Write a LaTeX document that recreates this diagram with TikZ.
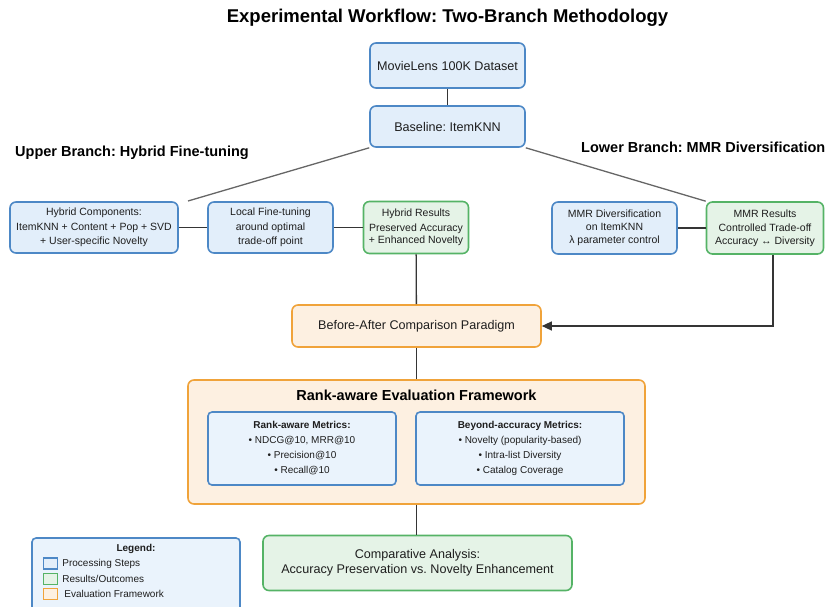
\documentclass[tikz,border=0pt]{standalone}
\usepackage{fontspec}
\setmainfont{Liberation Sans}
\usetikzlibrary{arrows.meta,positioning}
\frenchspacing

\definecolor{stepfill}{HTML}{E2EEFA}
\definecolor{stepline}{HTML}{4D88C6}
\definecolor{resfill}{HTML}{E5F3E7}
\definecolor{resline}{HTML}{55B366}
\definecolor{evalfill}{HTML}{FDF0E1}
\definecolor{evalline}{HTML}{F0A33A}
\definecolor{metfill}{HTML}{EAF3FC}
\definecolor{inkgray}{HTML}{1E1E1E}

\newcommand{\titlefont}{\fontsize{18.5}{22}\bfseries\selectfont}
\newcommand{\headfont}{\fontsize{14.5}{17}\bfseries\selectfont}
\newcommand{\bigtxt}{\fontsize{12.6}{15}\selectfont}
\newcommand{\smalltxt}{\fontsize{10.5}{14.5}\selectfont}
\newcommand{\mettxt}{\fontsize{10}{15}\selectfont}

\tikzset{
  box/.style={line width=1.6pt, rounded corners=6pt, align=center,
    inner sep=0pt, text=inkgray},
  procbox/.style={box, draw=stepline, fill=stepfill},
  resbox/.style={box, draw=resline, fill=resfill},
  evalbox/.style={box, draw=evalline, fill=evalfill},
  metbox/.style={box, draw=stepline, fill=metfill, rounded corners=4pt, font=\mettxt},
  link/.style={draw=inkgray!90, line width=1.3pt},
  branchlink/.style={draw=black!60, line width=1.3pt},
  legsq/.style={line width=1.4pt, minimum width=14pt, minimum height=11pt, inner sep=0pt},
}

\begin{document}
\begin{tikzpicture}[x=1pt,y=-1pt]
  \useasboundingbox (0,0) rectangle (826,606);

  % Title and branch labels
  \node[text=black, font=\titlefont] (title) at (447.5,18) {Experimental Workflow: Two-Branch Methodology};
  \node[text=black, font=\headfont] (upperlbl) at (132,153) {Upper Branch: Hybrid Fine-tuning};
  \node[text=black, font=\headfont, anchor=east, inner sep=0pt] (lowerlbl) at (825.5,147) {Lower Branch: MMR Diversification};

  % Top of the workflow
  \node[procbox, font=\bigtxt, minimum width=155pt, minimum height=45pt] (data) at (447.5,65.5) {MovieLens 100K Dataset};
  \node[procbox, font=\bigtxt, minimum width=155pt, minimum height=41pt] (base) at (447.5,126.5) {Baseline: ItemKNN};

  % Upper branch
  \node[procbox, font=\smalltxt, minimum width=168pt, minimum height=51pt] (hybcomp) at (94,227.5)
    {Hybrid Components:\\ItemKNN + Content + Pop + SVD\\+ User-specific Novelty};
  \node[procbox, font=\smalltxt, minimum width=125pt, minimum height=51pt] (localft) at (270.5,227.5)
    {Local Fine-tuning\\around optimal\\trade-off point};
  \node[resbox, font=\smalltxt, minimum width=105pt, minimum height=52pt] (hybres) at (416,227.5)
    {Hybrid Results\\Preserved Accuracy\\[-2.5pt]+ Enhanced Novelty};

  % Lower branch
  \node[procbox, font=\smalltxt, minimum width=125pt, minimum height=52pt] (mmrdiv) at (614.5,228)
    {MMR Diversification\\[-1.5pt]on ItemKNN\\[-1.5pt]λ parameter control};
  \node[resbox, font=\smalltxt, minimum width=117pt, minimum height=52pt] (mmrres) at (765,228)
    {MMR Results\\Controlled Trade-off\\[-2pt]Accuracy ↔ Diversity};

  % Comparison and evaluation
  \node[evalbox, font=\bigtxt, minimum width=249pt, minimum height=42pt] (beforeafter) at (416.5,326)
    {Before-After Comparison Paradigm};
  \node[evalbox, minimum width=457pt, minimum height=124pt] (evalframe) at (416.5,442) {};
  \node[text=black, font=\headfont] (evaltitle) at (416.5,395) {Rank-aware Evaluation Framework};
  \node[metbox, minimum width=188pt, minimum height=73pt] (rankmet) at (302,448.5)
    {\textbf{Rank-aware Metrics:}\\• NDCG@10, MRR@10\\• Precision@10\\• Recall@10};
  \node[metbox, minimum width=208pt, minimum height=73pt] (beyondmet) at (520,448.5)
    {\textbf{Beyond-accuracy Metrics:}\\• Novelty (popularity-based)\\• Intra-list Diversity\\• Catalog Coverage};
  \node[resbox, font=\bigtxt, minimum width=309pt, minimum height=55pt] (compare) at (417.5,563)
    {Comparative Analysis:\\Accuracy Preservation vs. Novelty Enhancement};

  % Legend
  \node[box, draw=stepline, fill=metfill, rounded corners=4pt, minimum width=208pt, minimum height=90pt] (legend) at (136,583) {};
  \node[font=\mettxt\bfseries, text=inkgray] (legtitle) at (136,549) {Legend:};
  \node[legsq, draw=stepline, fill=stepfill] (lgstep) at (50.5,563.5) {};
  \node[legsq, draw=resline, fill=resfill] (lgres) at (50.5,579) {};
  \node[legsq, draw=evalline, fill=evalfill] (lgeval) at (50.5,594) {};
  \node[font=\mettxt, text=inkgray, right=4pt of lgstep, inner sep=0pt] (lgsteptxt) {Processing Steps};
  \node[font=\mettxt, text=inkgray, right=4pt of lgres, inner sep=0pt] (lgrestxt) {Results/Outcomes};
  \node[font=\mettxt, text=inkgray, right=6pt of lgeval, inner sep=0pt] (lgevaltxt) {Evaluation Framework};

  % Connectors
  \coordinate (upend) at (188,201);
  \draw[link] (data) -- (base);
  \draw[branchlink] (base.south west) -- (upend);
  \draw[branchlink] (base.south east) -- (mmrres.north west);
  \draw[link] (hybcomp) -- (localft);
  \draw[link] (localft) -- (hybres);
  \draw[link] (mmrdiv) -- (mmrres);
  \draw[link] (hybres) -- (beforeafter);
  \draw[link, -{Triangle[length=10pt,width=9pt]}] ([xshift=8pt]mmrres.south) |- (beforeafter.east);
  \draw[link] (beforeafter) -- (evalframe);
  \draw[link] (evalframe.south) -- (evalframe.south |- compare.north);

\end{tikzpicture}
\end{document}
